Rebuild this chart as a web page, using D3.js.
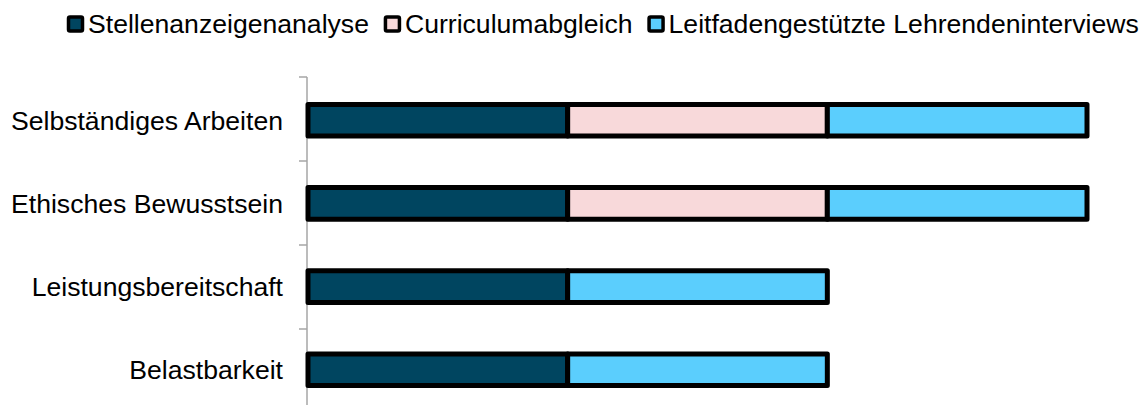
<!DOCTYPE html>
<html>
<head>
<meta charset="utf-8">
<script src="https://cdn.jsdelivr.net/npm/d3@7"></script>
<style>
  body { margin: 0; background: #fff; }
  text { font-family: "Liberation Sans", Arial, sans-serif; fill: #000; }
</style>
</head>
<body>
<div id="chart"></div>
<script>
var categories = ["Selbständiges Arbeiten", "Ethisches Bewusstsein", "Leistungsbereitschaft", "Belastbarkeit"];
var seriesNames = ["Stellenanzeigenanalyse", "Curriculumabgleich", "Leitfadengestützte Lehrendeninterviews"];
var stellenanzeigen = [1, 1, 1, 1];
var curriculum = [1, 1, 0, 0];
var interviews = [1, 1, 1, 1];
var colors = ["#004560", "#f8d9da", "#5bcefd"];

var W = 1141, H = 405;
var plotLeft = 307, plotRight = 1087, plotTop = 77, bandH = 84;

var svg = d3.select("#chart").append("svg")
    .attr("width", W)
    .attr("height", H);

var rows = categories.map(function (c, i) {
    return { cat: c, s0: stellenanzeigen[i], s1: curriculum[i], s2: interviews[i] };
});

var stack = d3.stack().keys(["s0", "s1", "s2"])(rows);

var x = d3.scaleLinear().domain([0, 3]).range([plotLeft + 1, plotRight]);
var y = d3.scaleBand().domain(categories)
    .range([plotTop, plotTop + bandH * categories.length])
    .paddingInner(0.62).paddingOuter(0.33);

// axis line and ticks
svg.append("line")
    .attr("x1", plotLeft).attr("x2", plotLeft)
    .attr("y1", plotTop).attr("y2", H)
    .style("stroke", "#a6a6a6").style("stroke-width", 1.5);

svg.selectAll(".tick")
    .data(d3.range(categories.length + 1))
    .enter().append("line")
    .attr("class", "tick")
    .attr("x1", plotLeft - 8).attr("x2", plotLeft)
    .attr("y1", function (d) { return plotTop + d * bandH; })
    .attr("y2", function (d) { return plotTop + d * bandH; })
    .style("stroke", "#a6a6a6").style("stroke-width", 1.5);

svg.selectAll(".label")
    .data(categories)
    .enter().append("text")
    .attr("class", "label")
    .attr("x", plotLeft - 24)
    .attr("y", function (d) { return y(d) + y.bandwidth() / 2; })
    .attr("dy", "0.35em")
    .attr("text-anchor", "end")
    .style("font-size", "26.6px")
    .text(function (d) { return d; });

// bars
var layer = svg.selectAll(".layer")
    .data(stack)
    .enter().append("g")
    .attr("class", "layer")
    .style("fill", function (d, i) { return colors[i]; });

layer.selectAll("rect")
    .data(function (d) { return d.filter(function (p) { return p[1] > p[0]; }); })
    .enter().append("rect")
    .attr("x", function (d) { return x(d[0]); })
    .attr("y", function (d) { return y(d.data.cat); })
    .attr("width", function (d) { return x(d[1]) - x(d[0]); })
    .attr("height", y.bandwidth())
    .style("stroke", "#000")
    .style("stroke-width", 5)
    .style("stroke-linejoin", "round");

// legend
var legend = svg.append("g").attr("transform", "translate(67,24)");
var lx = 0;
seriesNames.forEach(function (name, i) {
    var g = legend.append("g").attr("transform", "translate(" + lx + ",0)");
    g.append("rect")
        .attr("x", 1.5).attr("y", -7)
        .attr("width", 14).attr("height", 14)
        .attr("rx", 1.5)
        .style("fill", colors[i])
        .style("stroke", "#000")
        .style("stroke-width", 3.5);
    var t = g.append("text")
        .attr("x", 21)
        .attr("dy", "0.35em")
        .style("font-size", "26.6px")
        .text(name);
    lx += 21 + t.node().getComputedTextLength() + 15;
});
</script>
</body>
</html>
